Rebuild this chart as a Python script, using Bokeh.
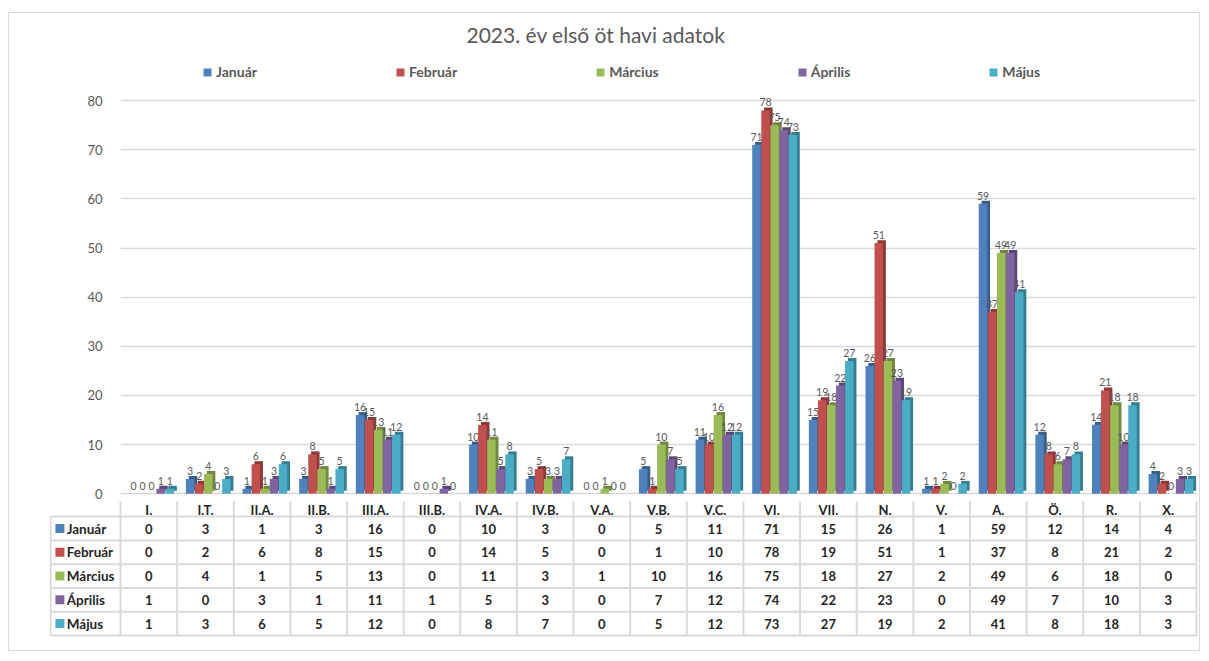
from bokeh.plotting import figure
from bokeh.models import ColumnDataSource, Range1d, FixedTicker, Legend, LegendItem
from bokeh.layouts import column
from bokeh.core.properties import value
from bokeh.embed import file_html
from bokeh.resources import INLINE

# ---------------- data ----------------
categories = ["I.", "I.T.", "II.A.", "II.B.", "III.A.", "III.B.", "IV.A.", "IV.B.", "V.A.",
              "V.B.", "V.C.", "VI.", "VII.", "N.", "V.", "A.", "Ö.", "R.", "X."]
series_names = ["Január", "Február", "Március", "Április", "Május"]
januar = [0, 3, 1, 3, 16, 0, 10, 3, 0, 5, 11, 71, 15, 26, 1, 59, 12, 14, 4]
februar = [0, 2, 6, 8, 15, 0, 14, 5, 0, 1, 10, 78, 19, 51, 1, 37, 8, 21, 2]
marcius = [0, 4, 1, 5, 13, 0, 11, 3, 1, 10, 16, 75, 18, 27, 2, 49, 6, 18, 0]
aprilis = [1, 0, 3, 1, 11, 1, 5, 3, 0, 7, 12, 74, 22, 23, 0, 49, 7, 10, 3]
majus = [1, 3, 6, 5, 12, 0, 8, 7, 0, 5, 12, 73, 27, 19, 2, 41, 8, 18, 3]
y_ticks = [0, 10, 20, 30, 40, 50, 60, 70, 80]
title_text = "2023. év első öt havi adatok"

series_values = [januar, februar, marcius, aprilis, majus]
colors = ["#4F81BD", "#C0504D", "#9BBB59", "#8064A2", "#4BACC6"]
side_colors = ["#385D8A", "#8C3836", "#71893F", "#5C4776", "#357D91"]

FONT = "Lato"
GRAY = "#595959"
n = len(categories)


def no_align(fig):
    if "frame_align" in fig.properties():
        fig.frame_align = False


# ---------------- chart ----------------
p = figure(width=1190, height=488, x_range=Range1d(0, n), y_range=Range1d(-1.6, 90),
           output_backend="svg", toolbar_location=None, x_axis_location=None,
           min_border_left=111, min_border_right=3, min_border_top=38, min_border_bottom=0,
           title=title_text)
no_align(p)
p.outline_line_color = None
p.title.text_font = FONT
p.title.text_font_size = "21px"
p.title.text_font_style = "normal"
p.title.text_color = GRAY
p.title.align = "left"
p.title.offset = 346

p.yaxis.ticker = FixedTicker(ticks=y_ticks)
p.yaxis.axis_line_color = None
p.yaxis.major_tick_line_color = None
p.yaxis.minor_tick_line_color = None
p.yaxis.major_label_text_font = FONT
p.yaxis.major_label_text_font_size = "13px"
p.yaxis.major_label_text_color = GRAY
p.yaxis.major_label_standoff = 12
p.xgrid.visible = False
p.ygrid.ticker = FixedTicker(ticks=y_ticks)
p.ygrid.grid_line_color = "#d9d9d9"
p.ygrid.grid_line_width = 1.5

legend_items = []
for k, (name, vals) in enumerate(zip(series_names, series_values)):
    xs = [i + 0.5 + (k - 2) * 0.16 + 0.05 for i in range(n)]
    src = ColumnDataSource(dict(
        x=xs, x_side=[x + 0.05 for x in xs], top=vals,
        top_side=[v + 0.6 for v in vals], bottom_side=[0.6] * n,
        label=[str(v) for v in vals]))
    p.vbar(x="x_side", top="top_side", bottom="bottom_side", width=0.15, source=src,
           fill_color=side_colors[k], line_color=None)
    r = p.vbar(x="x", top="top", bottom=0, width=0.15, source=src,
               fill_color=colors[k], line_color=None)
    p.text(x="x", y="top", text="label", source=src, text_align="center",
           text_baseline="bottom", y_offset=-4, text_font=value(FONT),
           text_font_size="10.5px", text_color=GRAY)
    legend_items.append(LegendItem(label=name, renderers=[r]))

legend = Legend(items=legend_items, orientation="horizontal", location=(82, 421),
                spacing=138, padding=0, margin=0, border_line_color=None,
                background_fill_alpha=0, label_text_font=FONT,
                label_text_font_style="bold", label_text_font_size="14px",
                label_text_color=GRAY, glyph_width=10, glyph_height=10,
                label_standoff=4)
p.add_layout(legend)

# ---------------- data table ----------------
px_per_cat = (1196 - 120) / n
x_start = (49 - 120) / px_per_cat
x_end = n + 2 / px_per_cat
t = figure(width=1190, height=149, x_range=Range1d(x_start, x_end),
           y_range=Range1d(5.254, -0.636), output_backend="svg", toolbar_location=None,
           x_axis_location=None, y_axis_location=None,
           min_border_left=40, min_border_right=1, min_border_top=0, min_border_bottom=9)
no_align(t)
t.outline_line_color = None
t.grid.visible = False

LINE = "#d9d9d9"
# vertical lines
t.segment(x0=list(range(n + 1)), y0=[-0.8] * (n + 1), x1=list(range(n + 1)), y1=[5] * (n + 1),
          line_color=LINE, line_width=2)
t.segment(x0=[x_start + 0.02], y0=[0], x1=[x_start + 0.02], y1=[5], line_color=LINE, line_width=2)
# horizontal lines
t.segment(x0=[x_start + 0.02] * 6, y0=list(range(6)), x1=[n] * 6, y1=list(range(6)),
          line_color=LINE, line_width=2)

hdr = ColumnDataSource(dict(x=[i + 0.5 for i in range(n)], y=[-0.28] * n, text=categories))
t.text(x="x", y="y", text="text", source=hdr, text_align="center", text_baseline="middle",
       text_font=value(FONT), text_font_style="bold", text_font_size="13px",
       text_color="#262626")

for k, (name, vals) in enumerate(zip(series_names, series_values)):
    src = ColumnDataSource(dict(x=[i + 0.5 for i in range(n)], y=[k + 0.5] * n,
                                text=[str(v) for v in vals]))
    t.text(x="x", y="y", text="text", source=src, text_align="center",
           text_baseline="middle", text_font=value(FONT), text_font_style="bold",
           text_font_size="13px", text_color="#262626")
    t.scatter(x=[-1.07], y=[k + 0.5], marker="square", size=9, fill_color=colors[k],
              line_color=None)
    t.text(x=[-0.95], y=[k + 0.5], text=[name], text_align="left", text_baseline="middle",
           text_font=value(FONT), text_font_style="bold", text_font_size="13.5px",
           text_color="#262626")

layout = column(p, t, spacing=0,
                styles={"border": "1px solid #d9d9d9", "margin-left": "8px",
                        "margin-top": "12px"})
open("out.html", "w").write(file_html(layout, INLINE))
